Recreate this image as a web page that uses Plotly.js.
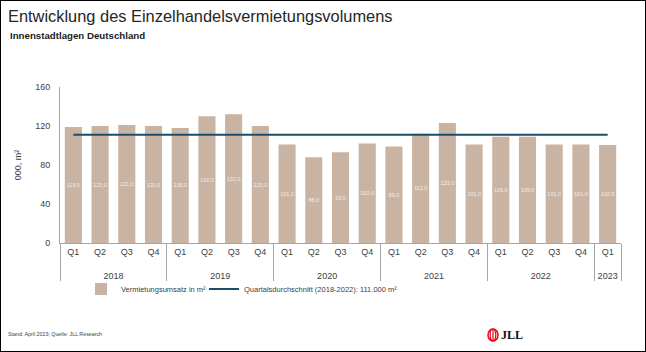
<!DOCTYPE html>
<html>
<head>
<meta charset="utf-8">
<script src="https://cdn.plot.ly/plotly-3.0.1.min.js"></script>
<style>
html,body{margin:0;padding:0;background:#fff;}
#chart{width:644px;height:350px;border:1px solid #000;}
</style>
</head>
<body>
<div id="chart"></div>
<script>
const years = ['2018','2018','2018','2018','2019','2019','2019','2019','2020','2020','2020','2020','2021','2021','2021','2021','2022','2022','2022','2022','2023'];
const quarters = ['Q1','Q2','Q3','Q4','Q1','Q2','Q3','Q4','Q1','Q2','Q3','Q4','Q1','Q2','Q3','Q4','Q1','Q2','Q3','Q4','Q1'];
const volumes = [119,120,121,120,118,130,132,120,101,88,93,102,99,112,123,101,109,109,101,101,100.5];
const average = [111,111,111,111,111,111,111,111,111,111,111,111,111,111,111,111,111,111,111,111,111];
const barLabels = volumes.map(v => v.toFixed(1).replace('.', ','));
// year labels drawn one line lower (leading line break) to match the reference spacing
const yearRow = years.map(y => '<br>' + y);

const FONT = 'Liberation Sans, Arial, sans-serif';
const W = 644, H = 350;
const L = 59, R = 620, T = 86, B = 242;
const px = x => (x - L) / (R - L);
const py = y => (B - y) / (B - T);

const traces = [
  {
    type: 'bar',
    x: [yearRow, quarters],
    y: volumes,
    name: 'Vermietungsumsatz in m²',
    legend: 'legend',
    marker: {color: '#c9b3a2'},
    text: barLabels,
    textposition: 'inside',
    insidetextanchor: 'middle',
    textangle: 0,
    constraintext: 'none',
    textfont: {family: FONT, size: 5.5, color: '#f4ece6'},
    hoverinfo: 'y'
  },
  {
    type: 'scatter',
    mode: 'lines',
    x: [yearRow, quarters],
    y: average,
    name: 'Quartalsdurchschnitt (2018-2022): 111.000 m²',
    legend: 'legend2',
    line: {color: '#1d4d69', width: 2}
  }
];

const legendFont = {family: FONT, size: 7.5, color: '#404040'};

const layout = {
  width: W, height: H,
  margin: {l: L, r: W - R, t: T, b: H - B},
  paper_bgcolor: '#fff', plot_bgcolor: '#fff',
  font: {family: FONT, color: '#404040', size: 9},
  bargap: 0.36,
  showlegend: true,
  title: {
    text: 'Entwicklung des Einzelhandelsvermietungsvolumens',
    font: {family: FONT, size: 16.4, color: '#262626'},
    xref: 'container', x: 7 / W, xanchor: 'left',
    yref: 'container', y: 1 - 10 / H, yanchor: 'top',
    pad: {t: 0, l: 0}
  },
  xaxis: {
    type: 'multicategory',
    showline: true, linecolor: '#a6a6a6', linewidth: 1,
    showdividers: true, dividercolor: '#a6a6a6', dividerwidth: 1,
    tickfont: {family: FONT, size: 9, color: '#404040'},
    ticks: '', showgrid: false, zeroline: false
  },
  yaxis: {
    range: [0, 160],
    tickvals: [0, 40, 80, 120, 160],
    showline: true, linecolor: '#a6a6a6', linewidth: 1,
    showgrid: false, zeroline: false, ticks: '',
    ticklabelstandoff: 7,
    tickfont: {family: FONT, size: 9, color: '#404040'},
    title: {text: '000, m²', font: {family: FONT, size: 9, color: '#404040'}, standoff: 12}
  },
  legend: {
    orientation: 'h',
    x: px(80), xanchor: 'left',
    y: py(288), yanchor: 'middle',
    font: legendFont,
    bgcolor: 'rgba(0,0,0,0)'
  },
  legend2: {
    orientation: 'h',
    itemwidth: 30,
    x: px(203), xanchor: 'left',
    y: py(288), yanchor: 'middle',
    font: legendFont,
    bgcolor: 'rgba(0,0,0,0)'
  },
  annotations: [
    {
      text: '<b>Innenstadtlagen Deutschland</b>',
      xref: 'paper', yref: 'paper', x: px(7), y: py(34),
      xanchor: 'left', yanchor: 'middle', showarrow: false,
      font: {family: FONT, size: 9.7, color: '#1a1a1a'}
    },
    {
      text: 'Stand: April 2023; Quelle: JLL Research',
      xref: 'paper', yref: 'paper', x: px(5), y: py(333),
      xanchor: 'left', yanchor: 'middle', showarrow: false,
      font: {family: FONT, size: 5.3, color: '#404040'}
    },
    {
      text: '<b>JLL</b>',
      xref: 'paper', yref: 'paper', x: px(498), y: py(334),
      xanchor: 'left', yanchor: 'middle', showarrow: false,
      font: {family: 'Liberation Serif, DejaVu Serif, serif', size: 12, color: '#111'}
    }
  ],
  shapes: [
    {type: 'circle', xref: 'paper', yref: 'paper', xsizemode: 'pixel', ysizemode: 'pixel',
     xanchor: px(492), yanchor: py(334), x0: -5, x1: 5, y0: -6, y1: 6,
     line: {color: '#e30613', width: 1.5}},
    {type: 'circle', xref: 'paper', yref: 'paper', xsizemode: 'pixel', ysizemode: 'pixel',
     xanchor: px(492), yanchor: py(334), x0: -2.8, x1: 2.8, y0: -6, y1: 6,
     line: {color: '#e30613', width: 1.2}},
    {type: 'line', xref: 'paper', yref: 'paper', xsizemode: 'pixel', ysizemode: 'pixel',
     xanchor: px(492), yanchor: py(334), x0: 0, x1: 0, y0: -6, y1: 6,
     line: {color: '#e30613', width: 1.2}}
  ]
};

Plotly.newPlot('chart', traces, layout, {displayModeBar: false, staticPlot: true});
</script>
</body>
</html>
